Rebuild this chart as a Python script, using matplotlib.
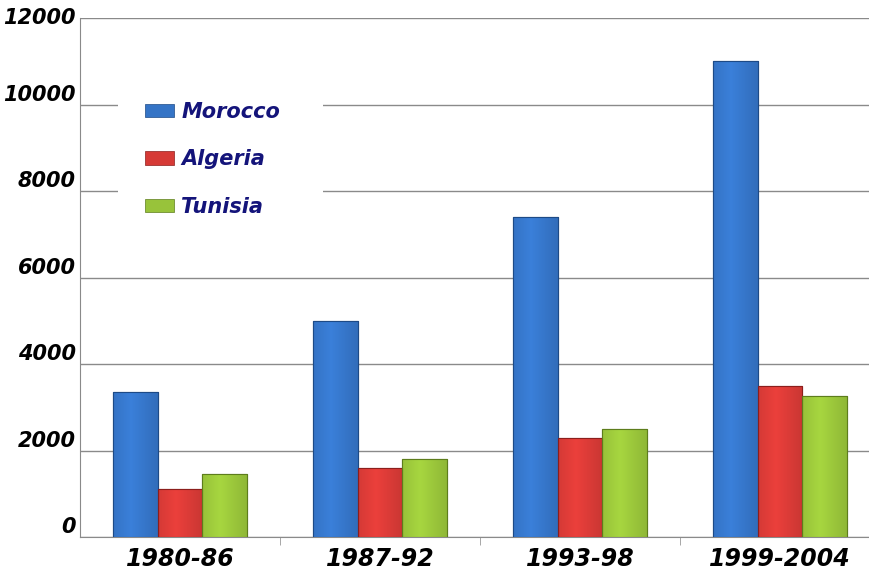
import numpy as np
import matplotlib.pyplot as plt
from matplotlib.patches import Patch, Rectangle
from matplotlib.colors import to_rgb

# ---------- data ----------
periods = ["1980-86", "1987-92", "1993-98", "1999-2004"]
countries = ["Morocco", "Algeria", "Tunisia"]
morocco = [3350, 5000, 7400, 11000]
algeria = [1100, 1600, 2300, 3500]
tunisia = [1450, 1800, 2500, 3250]
yticks = [0, 2000, 4000, 6000, 8000, 10000, 12000]

colors = ["#3574c6", "#d63a36", "#98c33a"]
edge_colors = ["#1d4a86", "#8c1e1c", "#5d7d1c"]


def shade(ax, bar, base):
    # horizontal gradient to mimic the bevelled 3D look
    x0, y0 = bar.get_x(), bar.get_y()
    w, h = bar.get_width(), bar.get_height()
    rgb = np.array(to_rgb(base))
    t = np.linspace(0, 1, 64)
    light = 1.0 - 0.45 * np.abs(t - 0.4) / 0.6
    grad = np.clip(rgb[None, :] * (0.75 + 0.35 * light[:, None]), 0, 1)
    img = ax.imshow(grad[None, :, :], extent=(x0, x0 + w, y0, y0 + h),
                    aspect="auto", zorder=3, interpolation="bilinear")
    img.set_clip_path(bar)


fig = plt.figure(figsize=(8.69, 5.72), dpi=100)
ax = fig.add_axes([80 / 869, 1 - 537 / 572, 1 - 80 / 869, 519 / 572])

x = np.arange(len(periods))
width = 0.222
series = [morocco, algeria, tunisia]
for i, vals in enumerate(series):
    bars = ax.bar(x + (i - 1) * width, vals, width, color=colors[i],
                  edgecolor=edge_colors[i], linewidth=0.8, zorder=2)
    for b in bars:
        shade(ax, b, colors[i])
        ax.add_patch(Rectangle((b.get_x(), b.get_y()), b.get_width(), b.get_height(),
                               fill=False, edgecolor=edge_colors[i], linewidth=0.8, zorder=4))

ax.set_xlim(-0.5, 3.445)
ax.set_ylim(0, 12000)
ax.set_yticks(yticks)
ax.set_yticklabels([str(v) for v in yticks], fontsize=15, fontweight="bold",
                   fontstyle="italic", va="bottom")
ax.get_yticklabels()[-1].set_va("center")
ax.tick_params(axis="y", length=0, pad=3)
ax.set_xticks(x)
ax.set_xticklabels(periods, fontsize=17, fontweight="bold", fontstyle="italic")
ax.tick_params(axis="x", length=0, pad=7)
ax.set_xticks([0.5, 1.5, 2.5], minor=True)
ax.tick_params(axis="x", which="minor", length=6, color="#999999", direction="out")

ax.grid(True, axis="y", color="#8a8a8a", linewidth=1, zorder=0)
ax.set_axisbelow(True)
for s in ["top", "right"]:
    ax.spines[s].set_visible(False)
ax.spines["left"].set_color("#8a8a8a")
ax.spines["bottom"].set_color("#8a8a8a")

# white box behind the legend that hides the gridlines
ax.add_patch(Rectangle((118 / 869, 1 - 228 / 572), 205 / 869, 140 / 572,
                       transform=fig.transFigure, facecolor="white",
                       edgecolor="none", zorder=1.5, clip_on=False))

handles = [Patch(facecolor=c, edgecolor=e, linewidth=0.5) for c, e in zip(colors, edge_colors)]
leg = ax.legend(handles, countries, loc="upper left", bbox_to_anchor=(128 / 869, 1 - 85 / 572),
                bbox_transform=fig.transFigure, frameon=False, handlelength=1.4,
                handleheight=0.6, handletextpad=0.35, labelspacing=1.33, borderpad=0.3,
                prop={"size": 15, "weight": "bold", "style": "italic"})
leg.set_zorder(10)
for t in leg.get_texts():
    t.set_color("#14147a")

fig.savefig("out.png", dpi=100)
